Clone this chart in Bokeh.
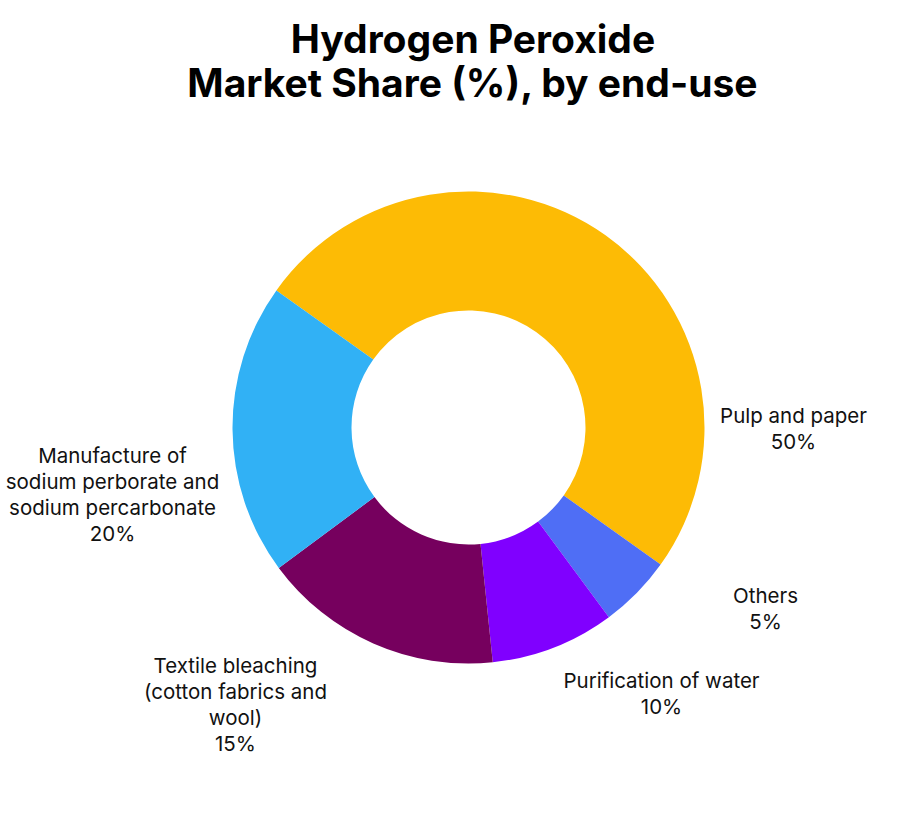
import math
from bokeh.plotting import figure
from bokeh.models import ColumnDataSource, Range1d
from bokeh.core.properties import value
from bokeh.embed import file_html
from bokeh.resources import INLINE

# slices, clockwise from the upper left
categories = ["Pulp and paper", "Others", "Purification of water",
              "Textile bleaching\n(cotton fabrics and\nwool)",
              "Manufacture of\nsodium perborate and\nsodium percarbonate"]
shares = [50, 5, 8.5, 16.5, 20]          # slice sizes as drawn
share_labels = ["50%", "5%", "10%", "15%", "20%"]
colors = ["#FDBB05", "#4F6EF5", "#8000FF", "#76005E", "#31B1F5"]

# label anchors, relative to donut centre (pixels)
label_x = [325, 297, 193, -233, -356]
label_y = [-1, -181, -266, -277, -67]

start_deg = 144.5
starts, ends = [], []
cum = 0
for s in shares:
    a0 = start_deg - cum * 3.6
    a1 = a0 - s * 3.6
    starts.append(math.radians(a0))
    ends.append(math.radians(a1))
    cum += s

src = ColumnDataSource(dict(
    cat=categories, share=shares, color=colors,
    start=starts, end=ends,
    x=[0] * len(shares), y=[0] * len(shares),
))

p = figure(width=889, height=804, output_backend="svg", toolbar_location=None,
           x_range=Range1d(-468, 421), y_range=Range1d(-377, 427), min_border=0)
p.axis.visible = False
p.grid.visible = False
p.outline_line_color = None

p.annular_wedge(x="x", y="y", inner_radius=117, outer_radius=236,
                start_angle="start", end_angle="end", direction="clock",
                fill_color="color", line_color=None, source=src)

lab = ColumnDataSource(dict(
    x=label_x, y=label_y,
    text=[c + "\n" + s for c, s in zip(categories, share_labels)],
))
p.text(x="x", y="y", text="text", source=lab, text_font=value("Inter"),
       text_font_size="20.5px", text_color="#111111", text_align="center",
       text_baseline="middle", text_line_height=1.03)

p.text(x=[4.5], y=[367], text=["Hydrogen Peroxide\nMarket Share (%), by end-use"],
       text_font=value("Inter"), text_font_style="bold", text_font_size="39px",
       text_color="#000000", text_align="center", text_baseline="middle",
       text_line_height=0.93)

open("out.html", "w").write(file_html(p, INLINE))
